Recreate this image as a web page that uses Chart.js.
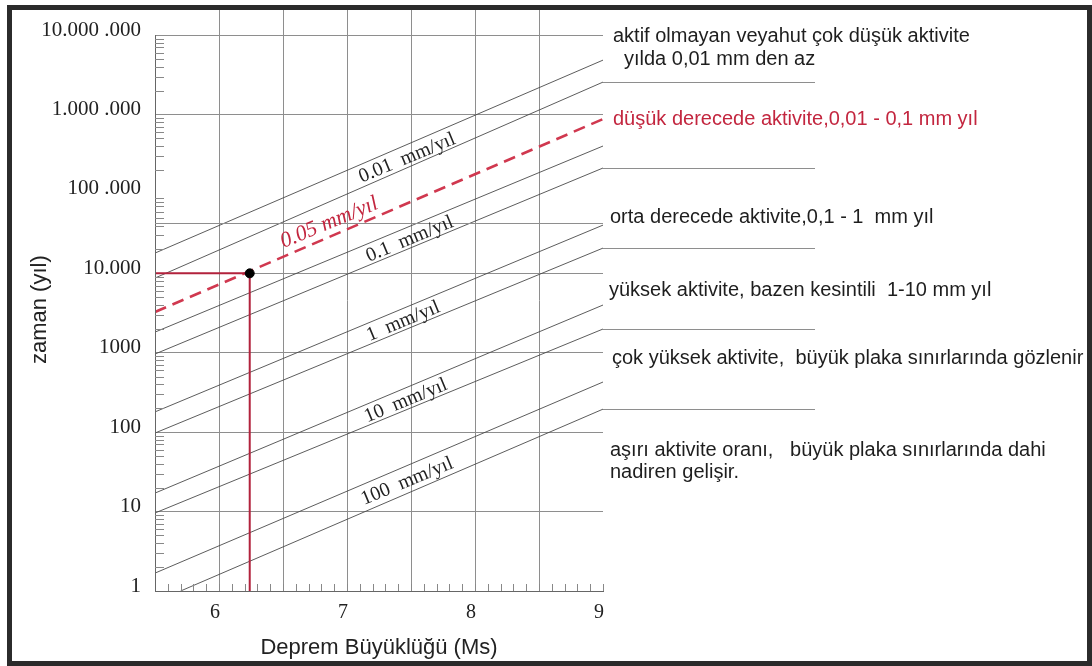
<!DOCTYPE html>
<html>
<head>
<meta charset="utf-8">
<script src="https://cdn.jsdelivr.net/npm/chart.js@4.4.1/dist/chart.umd.min.js"></script>
<style>
    body { margin: 0; background: #fff; }
    #wrap { width: 1092px; height: 666px; }
</style>
</head>
<body>
<div id="wrap"><canvas id="chart" width="1092" height="666"></canvas></div>
<script>
// axes
const magRange = [5.5, 9];
const xTickValues = [6, 7, 8, 9];
const xTickLabels = ['6', '7', '8', '9'];
const yTickValues = [1, 10, 100, 1000, 10000, 100000, 1000000, 10000000];
const yTickLabels = ['1', '10', '100', '1000', '10.000', '100 .000', '1.000 .000', '10.000 .000'];
const yExtraGrid = [43000];

// slip-rate lines, value at M 5.5 and at M 9
const rate001Upper = [18000, 4840000];
const rate001Lower = [8730, 2560000];
const rate005 = [3260, 875000];
const rate01Upper = [1820, 401000];
const rate01Lower = [964, 212000];
const rate1Upper = [180, 40500];
const rate1Lower = [97.5, 20800];
const rate10Upper = [17.1, 3990];
const rate10Lower = [9.6, 1990];
const rate100Upper = [1.68, 428];
const rate100LowerMag = [5.7, 9];
const rate100Lower = [1, 195];

// example read-off point
const exampleMag = 6.24;
const exampleTime = 10000;

const rateLabels = ['0.01  mm/yıl', '0.05 mm/yıl', '0.1  mm/yıl', '1  mm/yıl', '10  mm/yıl', '100  mm/yıl'];
const rateLabelMag = [7.47, 6.9, 7.49, 7.44, 7.46, 7.47];

const zoneTexts = [
    'aktif olmayan veyahut çok düşük aktivite',
    'yılda 0,01 mm den az',
    'düşük derecede aktivite,0,01 - 0,1 mm yıl',
    'orta derecede aktivite,0,1 - 1  mm yıl',
    'yüksek aktivite, bazen kesintili  1-10 mm yıl',
    'çok yüksek aktivite,  büyük plaka sınırlarında gözlenir',
    'aşırı aktivite oranı,   büyük plaka sınırlarında dahi',
    'nadiren gelişir.'
];
// text placement (pixels)
const zoneTextPos = [[613, 36], [624, 59], [613, 119], [610, 217], [609, 290], [612, 358], [610, 450], [610, 472]];

const RED = '#c3263f';
const LINE = '#4a4a4a';
const GRID = '#8e8e8e';
const SERIF = '"Liberation Serif", "Times New Roman", serif';
const SANS = '"Liberation Sans", Arial, sans-serif';

function seg(mags, vals) {
    return mags.map((m, i) => ({ x: m, y: vals[i] }));
}

function rateLine(vals, mags) {
    return {
        data: seg(mags || magRange, vals),
        showLine: true,
        borderColor: LINE,
        borderWidth: 0.9,
        pointRadius: 0
    };
}

const pairs = [
    [rate001Upper, rate001Lower],
    null,
    [rate01Upper, rate01Lower],
    [rate1Upper, rate1Lower],
    [rate10Upper, rate10Lower],
    [rate100Upper, rate100Lower]
];
const lowerLines = [rate001Lower, rate01Lower, rate1Lower, rate10Lower, rate100Lower];

function logAt(vals, mags, m) {
    const a = Math.log10(vals[0]), b = Math.log10(vals[1]);
    return Math.pow(10, a + (m - mags[0]) / (mags[1] - mags[0]) * (b - a));
}

const decor = {
    id: 'decor',
    afterDraw(chart) {
        const ctx = chart.ctx;
        const xs = chart.scales.x, ys = chart.scales.y;
        const area = chart.chartArea;
        ctx.save();

        // y axis line
        ctx.strokeStyle = '#666';
        ctx.lineWidth = 1;
        ctx.beginPath();
        ctx.moveTo(area.left + 0.5, ys.getPixelForValue(1e7));
        ctx.lineTo(area.left + 0.5, area.bottom);
        ctx.stroke();

        // y minor ticks
        ctx.strokeStyle = '#888';
        ctx.beginPath();
        for (let d = 1; d < 1e7; d *= 10) {
            for (let k = 2; k <= 9; k++) {
                const py = Math.round(ys.getPixelForValue(k * d)) + 0.5;
                ctx.moveTo(area.left, py);
                ctx.lineTo(area.left + 9, py);
            }
        }
        // x minor ticks
        for (let i = 1; i <= 35; i++) {
            const px = Math.round(xs.getPixelForValue(5.5 + i / 10)) + 0.5;
            ctx.moveTo(px, area.bottom);
            ctx.lineTo(px, area.bottom - 7);
        }
        ctx.stroke();

        // extra horizontal grid line
        ctx.strokeStyle = GRID;
        ctx.beginPath();
        yExtraGrid.forEach(v => {
            const py = Math.round(ys.getPixelForValue(v)) + 0.5;
            ctx.moveTo(area.left, py);
            ctx.lineTo(area.right, py);
        });
        ctx.stroke();

        // separators on the right
        ctx.strokeStyle = GRID;
        ctx.beginPath();
        lowerLines.forEach(vals => {
            const py = Math.round(ys.getPixelForValue(vals[1])) + 0.5;
            ctx.moveTo(area.right, py);
            ctx.lineTo(area.right + 212, py);
        });
        ctx.stroke();

        // rate labels along the lines
        const ang = Math.atan2(ys.getPixelForValue(rate01Lower[1]) - ys.getPixelForValue(rate01Lower[0]),
            xs.getPixelForValue(magRange[1]) - xs.getPixelForValue(magRange[0]));
        ctx.textAlign = 'center';
        ctx.textBaseline = 'middle';
        rateLabels.forEach((txt, i) => {
            const m = rateLabelMag[i];
            const px = xs.getPixelForValue(m);
            let py, dy;
            if (pairs[i]) {
                const u = pairs[i][0], l = pairs[i][1];
                const lm = l === rate100Lower ? rate100LowerMag : magRange;
                py = (ys.getPixelForValue(logAt(u, magRange, m)) + ys.getPixelForValue(logAt(l, lm, m))) / 2 + 2;
                dy = 0;
                ctx.font = '20px ' + SERIF;
                ctx.fillStyle = '#222';
            } else {
                py = ys.getPixelForValue(logAt(rate005, magRange, m));
                dy = -13;
                ctx.font = 'italic 22px ' + SERIF;
                ctx.fillStyle = RED;
            }
            ctx.save();
            ctx.translate(px, py);
            ctx.rotate(ang);
            ctx.fillText(txt, 0, dy);
            ctx.restore();
        });

        // zone descriptions
        ctx.textAlign = 'left';
        ctx.font = '20px ' + SANS;
        zoneTexts.forEach((txt, i) => {
            ctx.fillStyle = i === 2 ? RED : '#1e1e1e';
            ctx.fillText(txt, zoneTextPos[i][0], zoneTextPos[i][1]);
        });

        // frame
        ctx.strokeStyle = '#2b2b2b';
        ctx.lineWidth = 5;
        ctx.strokeRect(9.5, 7.5, 1080, 656);
        ctx.restore();
    }
};

new Chart(document.getElementById('chart').getContext('2d'), {
    type: 'scatter',
    data: {
        datasets: [
            {
                data: [{ x: exampleMag, y: exampleTime }],
                pointRadius: 4.5,
                pointBackgroundColor: '#000',
                pointBorderColor: '#000',
                showLine: false
            },
            {
                data: [{ x: magRange[0], y: exampleTime }, { x: exampleMag, y: exampleTime }, { x: exampleMag, y: 1 }],
                showLine: true,
                borderColor: '#b2223c',
                borderWidth: 2,
                pointRadius: 0
            },
            {
                data: seg(magRange, rate005),
                showLine: true,
                borderColor: '#d0384f',
                borderWidth: 2.6,
                borderDash: [12, 7],
                pointRadius: 0
            },
            rateLine(rate001Upper),
            rateLine(rate001Lower),
            rateLine(rate01Upper),
            rateLine(rate01Lower),
            rateLine(rate1Upper),
            rateLine(rate1Lower),
            rateLine(rate10Upper),
            rateLine(rate10Lower),
            rateLine(rate100Upper),
            rateLine(rate100Lower, rate100LowerMag)
        ]
    },
    options: {
        responsive: false,
        animation: false,
        layout: { padding: { left: 0, top: 10, right: 489, bottom: 0 } },
        plugins: { legend: { display: false }, tooltip: { enabled: false } },
        scales: {
            x: {
                type: 'linear',
                min: magRange[0],
                max: magRange[1],
                afterFit: s => { s.height = 75; s.paddingLeft = 0; s.paddingRight = 0; },
                border: { display: true, color: '#666', width: 1 },
                grid: {
                    drawTicks: false,
                    color: c => (c.tick && (Math.abs(c.tick.value - 5.5) < 1e-6 || Math.abs(c.tick.value - 9) < 1e-6)) ? 'rgba(0,0,0,0)' : GRID
                },
                ticks: {
                    stepSize: 0.5,
                    autoSkip: false,
                    maxRotation: 0,
                    padding: 10,
                    labelOffset: -4,
                    color: '#222',
                    font: { family: SERIF, size: 20 },
                    callback: v => {
                        const i = xTickValues.indexOf(v);
                        return i >= 0 ? xTickLabels[i] : '';
                    }
                },
                title: {
                    display: true,
                    text: 'Deprem Büyüklüğü (Ms)',
                    color: '#222',
                    font: { family: SANS, size: 22 },
                    padding: { top: 0, bottom: 5 }
                }
            },
            y: {
                type: 'logarithmic',
                min: 1,
                max: 2.07e7,
                afterFit: s => { s.width = 155; s.paddingTop = 0; s.paddingBottom = 0; },
                afterBuildTicks: s => {
                    s.ticks = yTickValues.concat(yExtraGrid).map(v => ({ value: v }));
                },
                border: { display: false },
                grid: {
                    drawTicks: false,
                    color: c => (c.tick && (c.tick.value === 100000 || yExtraGrid.includes(c.tick.value))) ? 'rgba(0,0,0,0)' : GRID
                },
                ticks: {
                    autoSkip: false,
                    padding: 14,
                    labelOffset: -5,
                    color: '#222',
                    font: { family: SERIF, size: 21 },
                    callback: v => {
                        const i = yTickValues.indexOf(v);
                        return i >= 0 ? yTickLabels[i] : '';
                    }
                },
                title: {
                    display: true,
                    text: 'zaman (yıl)   ',
                    color: '#222',
                    font: { family: SANS, size: 22 },
                    padding: { top: 27, bottom: 0 }
                }
            }
        }
    },
    plugins: [decor]
});
</script>
</body>
</html>
